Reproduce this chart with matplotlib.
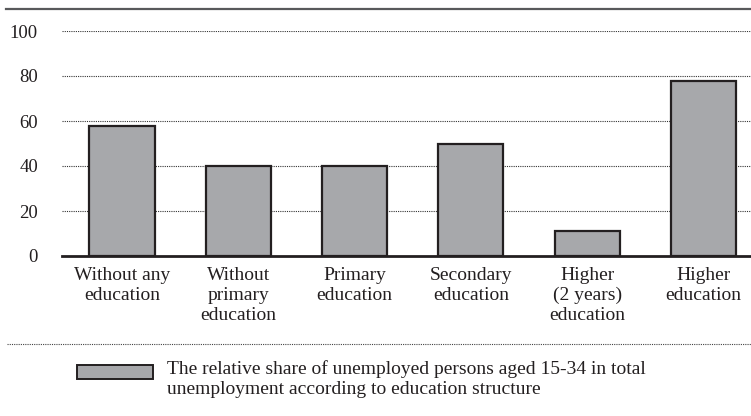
import matplotlib
matplotlib.use("Agg")
import matplotlib.pyplot as plt
from matplotlib.patches import Rectangle
from matplotlib.lines import Line2D

categories = ["Without any\neducation", "Without\nprimary\neducation", "Primary\neducation",
              "Secondary\neducation", "Higher\n(2 years)\neducation", "Higher\neducation"]
values = [58, 40, 40, 50, 11, 78]
yticks = [0, 20, 40, 60, 80, 100]
legend_label = "The relative share of unemployed persons aged 15-34 in total\nunemployment according to education structure"

plt.rcParams['font.family'] = ['Liberation Serif', 'DejaVu Serif']

W, H = 751, 416
fig = plt.figure(figsize=(W/100, H/100), dpi=100)
ax_left, ax_right = 62, 751
ax_top, ax_bottom = 31, 256
ax = fig.add_axes([ax_left/W, 1 - ax_bottom/H, (ax_right-ax_left)/W, (ax_bottom-ax_top)/H])

x = list(range(len(categories)))
ax.bar(x, values, width=0.56, color="#a7a8ab", edgecolor="#231f20", linewidth=1.6, zorder=3)
ax.set_xlim(-0.516, 5.41)
ax.set_ylim(0, 100)
ax.set_yticks(yticks)
ax.set_yticklabels([str(t) for t in yticks], fontsize=13.5, color="#231f20")
ax.set_xticks(x)
ax.set_xticklabels(categories, fontsize=14, color="#231f20", linespacing=1.22)
ax.tick_params(axis='y', length=0, pad=17.3)
ax.tick_params(axis='x', length=0, pad=8)
for t in yticks[1:]:
    ax.axhline(t, color="#333333", linestyle=(0, (1, 1)), linewidth=0.8, zorder=1)
for s in ['top', 'right', 'left']:
    ax.spines[s].set_visible(False)
ax.spines['bottom'].set_linewidth(2)
ax.spines['bottom'].set_color("#231f20")
ax.spines['bottom'].set_zorder(4)

# top rule
fig.add_artist(Line2D([6/W, 1], [1 - 9/H, 1 - 9/H], color="#58595b", linewidth=1.6))
# bottom dotted rule
fig.add_artist(Line2D([7/W, 1], [1 - 344/H, 1 - 344/H], color="#444444", linewidth=0.8, linestyle=(0, (1, 1))))

# legend
fig.add_artist(Rectangle((77/W, 1 - 379/H), 76/W, 14/H, facecolor="#a7a8ab", edgecolor="#231f20", linewidth=1.4))
fig.text(167/W, 1 - 360/H, legend_label, fontsize=14, color="#231f20", va='top', ha='left', linespacing=1.22)

fig.savefig("out.png", dpi=100)
